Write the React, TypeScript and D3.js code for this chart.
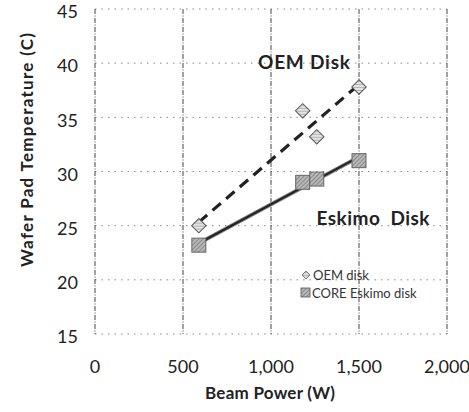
import { useEffect } from "react"
import * as d3 from "d3"

// readings
const oemPower = [590, 1180, 1260, 1500]
const oemTemp = [25.0, 35.6, 33.2, 37.8]
const eskimoPower = [590, 1180, 1260, 1500]
const eskimoTemp = [23.2, 29.0, 29.3, 31.0]

const xTicks = [0, 500, 1000, 1500, 2000]
const yTicks = [15, 20, 25, 30, 35, 40, 45]

const seriesNames = ["OEM disk", "CORE Eskimo disk"]
const noteLabels = ["OEM Disk", "Eskimo  Disk"]

const width = 469
const height = 412
const font = "Lato, 'Open Sans', sans-serif"

const fit = (xs: number[], ys: number[]) => {
  const mx = d3.mean(xs) as number
  const my = d3.mean(ys) as number
  const sxy = d3.sum(xs, (x, i) => (x - mx) * (ys[i] - my))
  const sxx = d3.sum(xs, (x) => (x - mx) ** 2)
  const slope = sxy / sxx
  const lo = d3.min(xs) as number
  const hi = d3.max(xs) as number
  return [
    [lo, my + slope * (lo - mx)],
    [hi, my + slope * (hi - mx)],
  ]
}

const App = () => {
  useEffect(() => {
    document.body.style.margin = "0"
  }, [])

  const x = d3.scaleLinear().domain([0, 2000]).range([95, 447])
  const y = d3.scaleLinear().domain([15, 45]).range([334, 9])
  const line = d3
    .line<number[]>()
    .x((d) => x(d[0]))
    .y((d) => y(d[1]))

  const oemTrend = fit(oemPower, oemTemp)
  const eskimoTrend = fit(eskimoPower, eskimoTemp)
  const diamond = d3.symbol(d3.symbolSquare, 105)

  return (
    <svg width={width} height={height} style={{ display: "block", background: "#fff" }}>
      <defs>
        <pattern id="hatch" width="3" height="3" patternUnits="userSpaceOnUse" patternTransform="rotate(45)">
          <rect width="3" height="3" fill="#b8b8b8" />
          <line x1="0" y1="0" x2="0" y2="3" stroke="#6a6a6a" strokeWidth="1.2" />
        </pattern>
        <pattern id="hatchLight" width="3" height="3" patternUnits="userSpaceOnUse" patternTransform="rotate(45)">
          <rect width="3" height="3" fill="#e2e2e2" />
          <line x1="0" y1="0" x2="0" y2="3" stroke="#8a8a8a" strokeWidth="1" />
        </pattern>
      </defs>

      {/* grid */}
      {yTicks.map((t) => (
        <line
          key={"h" + t}
          x1={x(0)}
          x2={x(2000)}
          y1={y(t)}
          y2={y(t)}
          stroke="#888"
          strokeWidth={1}
          strokeDasharray="1.5,5"
        />
      ))}
      {xTicks.map((t) => (
        <line
          key={"v" + t}
          x1={x(t)}
          x2={x(t)}
          y1={y(45)}
          y2={y(15)}
          stroke="#444"
          strokeWidth={1}
          strokeDasharray="5,1.5,1,1.5"
        />
      ))}

      {/* tick labels */}
      {yTicks.map((t) => (
        <text
          key={"yl" + t}
          x={78}
          y={y(t) + 3}
          dy="0.35em"
          textAnchor="end"
          fontFamily={font}
          fontSize={18}
          fill="#222"
        >
          {t}
        </text>
      ))}
      {xTicks.map((t) => (
        <text
          key={"xl" + t}
          x={x(t)}
          y={367}
          dy="0.35em"
          textAnchor="middle"
          fontFamily={font}
          fontSize={18}
          fill="#222"
        >
          {d3.format(",")(t)}
        </text>
      ))}

      {/* axis titles */}
      <text
        x={270}
        y={393}
        dy="0.35em"
        textAnchor="middle"
        fontFamily={font}
        fontSize={17}
        fontWeight="bold"
        fill="#222"
        textLength={130}
      >
        Beam Power (W)
      </text>
      <text
        transform="translate(27, 150) rotate(-90)"
        dy="0.35em"
        textAnchor="middle"
        fontFamily={font}
        fontSize={17}
        fontWeight="bold"
        fill="#222"
        textLength={234}
      >
        Wafer Pad Temperature (C)
      </text>

      {/* trendlines */}
      <path d={line(oemTrend) as string} fill="none" stroke="#222" strokeWidth={3.2} strokeDasharray="11,7" />
      <path d={line(eskimoTrend) as string} fill="none" stroke="#888" strokeWidth={4} />
      <path d={line(eskimoTrend) as string} fill="none" stroke="#222" strokeWidth={2} />

      {/* markers */}
      {oemPower.map((p, i) => (
        <path
          key={"o" + i}
          d={diamond() as string}
          transform={`translate(${x(p)}, ${y(oemTemp[i])}) rotate(45)`}
          fill="url(#hatchLight)"
          stroke="#555"
          strokeWidth={1}
        />
      ))}
      {eskimoPower.map((p, i) => (
        <rect
          key={"e" + i}
          x={x(p) - 7}
          y={y(eskimoTemp[i]) - 7}
          width={14}
          height={14}
          fill="url(#hatch)"
          stroke="#666"
          strokeWidth={1}
        />
      ))}

      {/* annotations */}
      <text
        x={304}
        y={62}
        dy="0.35em"
        textAnchor="middle"
        fontFamily={font}
        fontSize={19}
        fontWeight="bold"
        fill="#222"
        textLength={92}
      >
        {noteLabels[0]}
      </text>
      <text
        x={373}
        y={218}
        dy="0.35em"
        textAnchor="middle"
        fontFamily={font}
        fontSize={19}
        fontWeight="bold"
        fill="#222"
        textLength={113}
        style={{ whiteSpace: "pre" }}
      >
        {noteLabels[1]}
      </text>

      {/* legend */}
      <g fontFamily={font} fontSize={13} fill="#333">
        <path
          d={d3.symbol(d3.symbolSquare, 30)() as string}
          transform="translate(306, 275) rotate(45)"
          fill="url(#hatchLight)"
          stroke="#555"
          strokeWidth={0.8}
        />
        <text x={313} y={275} dy="0.35em">
          {seriesNames[0]}
        </text>
        <rect x={301} y={288} width={9} height={9} fill="url(#hatch)" stroke="#555" strokeWidth={0.8} />
        <text x={312} y={293} dy="0.35em">
          {seriesNames[1]}
        </text>
      </g>
    </svg>
  )
}

export default App
